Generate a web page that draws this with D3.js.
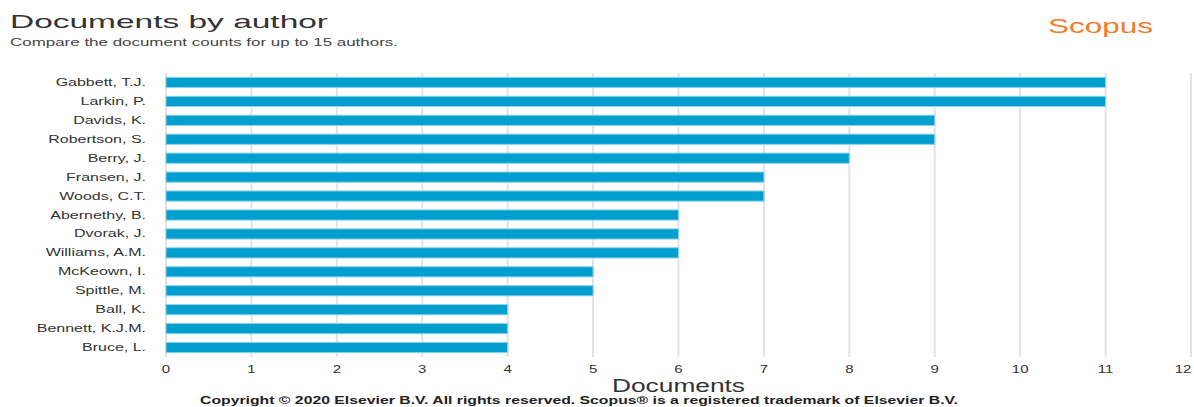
<!DOCTYPE html>
<html>
<head>
<meta charset="utf-8">
<script src="https://cdn.jsdelivr.net/npm/d3@7"></script>
<style>
  html, body { margin: 0; padding: 0; background: #fff; }
  svg { display: block; }
  text { font-family: "Liberation Sans", Arial, sans-serif; }
</style>
</head>
<body>
<svg id="chart" width="1194" height="407"></svg>
<script>
const authors = ["Gabbett, T.J.", "Larkin, P.", "Davids, K.", "Robertson, S.", "Berry, J.",
  "Fransen, J.", "Woods, C.T.", "Abernethy, B.", "Dvorak, J.", "Williams, A.M.",
  "McKeown, I.", "Spittle, M.", "Ball, K.", "Bennett, K.J.M.", "Bruce, L."];
const documents = [11, 11, 9, 9, 8, 7, 7, 6, 6, 6, 5, 5, 4, 4, 4];
const xTicks = [0, 1, 2, 3, 4, 5, 6, 7, 8, 9, 10, 11, 12];

const titleText = "Documents by author";
const subtitleText = "Compare the document counts for up to 15 authors.";
const axisTitle = "Documents";
const copyright = "Copyright \u00A9 2020 Elsevier B.V. All rights reserved. Scopus\u00AE is a registered trademark of Elsevier B.V.";
const brand = "Scopus";

const svg = d3.select("#chart");
const SX = 1.6;

const x = d3.scaleLinear().domain([0, 12]).range([166, 1191]);
const y = d3.scaleBand().domain(authors).range([73, 357]).paddingInner(0.46).paddingOuter(0.23);

// Title & subtitle
svg.append("text").attr("x", 10).attr("y", 28).attr("font-size", 19).attr("fill", "#333")
  .attr("textLength", 318).attr("lengthAdjust", "spacingAndGlyphs").text(titleText);
svg.append("text").attr("x", 10).attr("y", 46).attr("font-size", 10).attr("fill", "#444")
  .attr("textLength", 388).attr("lengthAdjust", "spacingAndGlyphs").text(subtitleText);
svg.append("text").attr("x", 1048).attr("y", 33).attr("font-size", 20).attr("fill", "#f47b2a")
  .attr("font-family", "'Open Sans', 'Noto Sans', sans-serif").attr("font-weight", 400)
  .attr("textLength", 105).attr("lengthAdjust", "spacingAndGlyphs").text(brand);

// Gridlines
svg.append("g").selectAll("line").data(xTicks).join("line")
  .attr("x1", d => x(d)).attr("x2", d => x(d))
  .attr("y1", 73).attr("y2", 357)
  .attr("stroke", "#e3e3e3").attr("stroke-width", 2);

// Bars
svg.append("g").selectAll("rect").data(authors).join("rect")
  .attr("x", x(0))
  .attr("y", d => y(d))
  .attr("width", (d, i) => x(documents[i]) - x(0))
  .attr("height", y.bandwidth())
  .attr("fill", "#009fcf")
  .attr("stroke", "#8fd3ea").attr("stroke-width", 1);

// Author labels
svg.append("g").selectAll("text").data(authors).join("text")
  .attr("transform", d => `translate(146,${y(d) + y.bandwidth() / 2 + 3.5}) scale(${SX},1)`)
  .attr("text-anchor", "end").attr("font-size", 10).attr("fill", "#333")
  .text(d => d);

// X tick labels
svg.append("g").selectAll("text").data(xTicks).join("text")
  .attr("transform", d => `translate(${Math.min(x(d), 1183)},373) scale(1.5,1)`)
  .attr("text-anchor", "middle").attr("font-size", 10).attr("fill", "#333")
  .text(d => d);

// Axis title
svg.append("text").attr("x", 612).attr("y", 392).attr("font-size", 18).attr("fill", "#333")
  .attr("textLength", 133).attr("lengthAdjust", "spacingAndGlyphs").text(axisTitle);

// Copyright
svg.append("text").attr("x", 200).attr("y", 404).attr("font-size", 10).attr("font-weight", "bold").attr("fill", "#222")
  .attr("textLength", 758).attr("lengthAdjust", "spacingAndGlyphs").text(copyright);
</script>
</body>
</html>
